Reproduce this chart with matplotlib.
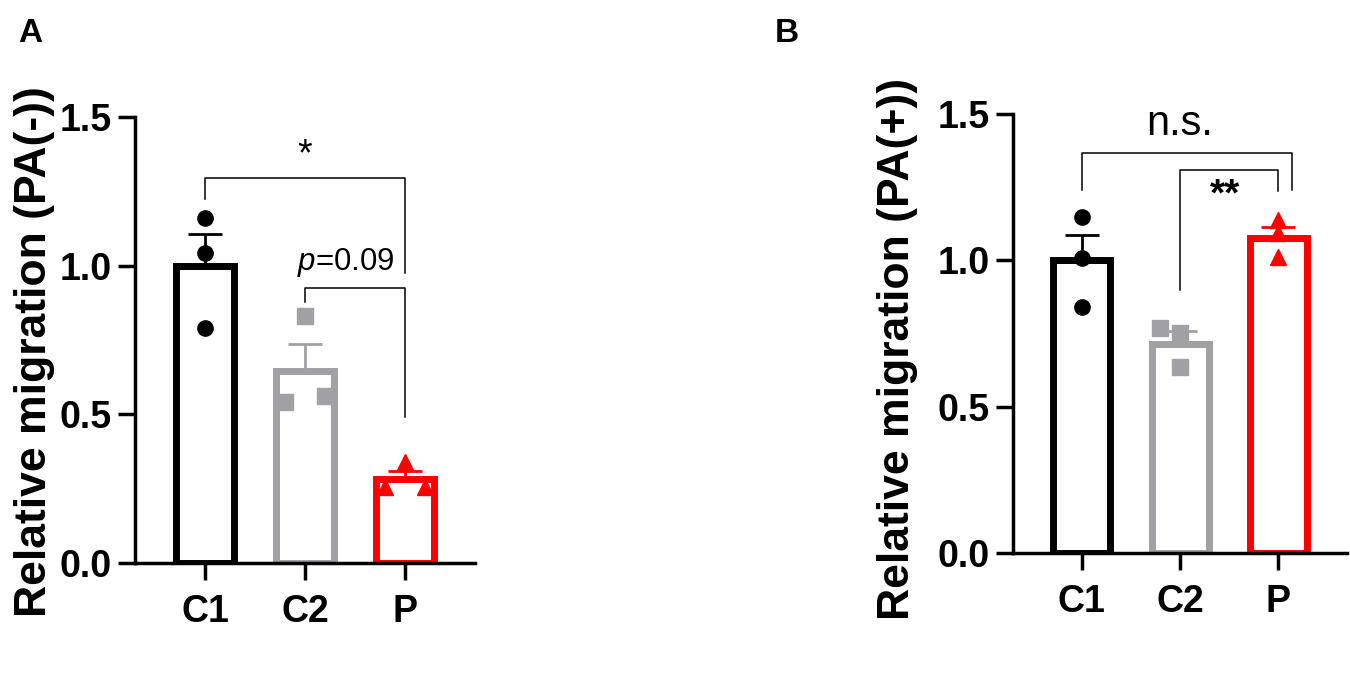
import numpy as np
import matplotlib
matplotlib.use('Agg')
import matplotlib.pyplot as plt

plt.rcParams['font.family'] = ['Liberation Sans', 'DejaVu Sans']
plt.rcParams['mathtext.fontset'] = 'custom'
plt.rcParams['mathtext.it'] = 'Liberation Sans:italic'
plt.rcParams['mathtext.rm'] = 'Liberation Sans'

groups = ['C1', 'C2', 'P']
colors = ['#000000', '#A0A0A5', '#FF0000']
markers = ['o', 's', '^']
jitter = [-0.2, 0.0, 0.2]

# panel A, PA(-)
a_means = [1.0, 0.645, 0.283]
a_sem = [0.108, 0.092, 0.028]
a_points = [[1.16, 1.044, 0.79], [0.54, 0.83, 0.56], [0.256, 0.34, 0.256]]
a_jit = [[0, 0, 0], jitter, jitter]

# panel B, PA(+)
b_means = [1.0, 0.715, 1.075]
b_sem = [0.086, 0.045, 0.038]
b_points = [[1.148, 1.007, 0.84], [0.768, 0.75, 0.636], [1.137, 1.093, 1.01]]
b_jit = [[0, 0, 0], [-0.2, 0, 0], [0, 0, 0]]


def bracket(ax, x1, x2, top, l1, l2):
    ax.plot([x1, x1, x2, x2], [l1, top, top, l2], color='black', lw=1.1,
            clip_on=False, zorder=5)


def panel(ax, means, sem, points, jit, ylabel, label_xy):
    x = np.arange(len(groups))
    for i in range(len(groups)):
        ax.bar(x[i], means[i], width=0.58, facecolor='white',
               edgecolor=colors[i], linewidth=5, zorder=2)
        ax.errorbar(x[i], means[i], yerr=[[0], [sem[i]]], color=colors[i],
                    elinewidth=2, capsize=12, capthick=2, zorder=3)
        ax.plot(x[i] + np.array(jit[i]), points[i], linestyle='none',
                marker=markers[i], color=colors[i], markersize=11,
                zorder=4, clip_on=False)
    ax.set_xlim(-0.7, 2.7)
    ax.set_ylim(0, 1.5)
    ax.set_yticks([0, 0.5, 1.0, 1.5])
    ax.set_yticklabels(['0.0', '0.5', '1.0', '1.5'])
    ax.set_xticks(x)
    ax.set_xticklabels(groups)
    for s in ['top', 'right']:
        ax.spines[s].set_visible(False)
    for s in ['left', 'bottom']:
        ax.spines[s].set_linewidth(2.5)
    ax.tick_params(axis='both', width=2.5, length=12, labelsize=27)
    ax.tick_params(axis='x', pad=10)
    ax.tick_params(axis='y', pad=5)
    for lab in ax.get_xticklabels() + ax.get_yticklabels():
        lab.set_fontweight('bold')
    ax.set_ylabel(ylabel, fontsize=32, fontweight='bold')
    ax.yaxis.set_label_coords(*label_xy)


fig = plt.figure(figsize=(13.5, 6.87), dpi=100)

axA = fig.add_axes([0.1, 0.1805, 0.2519, 0.6492])
panel(axA, a_means, a_sem, a_points, a_jit, 'Relative migration (PA(-))',
      (-0.236, 0.475))
bracket(axA, 0, 2, 1.296, 1.225, 0.976)
bracket(axA, 1, 2, 0.926, 0.879, 0.49)
axA.text(1.0, 1.37, '*', ha='center', va='center', fontsize=27)
axA.text(1.41, 0.987, r'$p$=0.09', ha='center', va='baseline', fontsize=22.5)

axB = fig.add_axes([0.7504, 0.1951, 0.2474, 0.639])
panel(axB, b_means, b_sem, b_points, b_jit, 'Relative migration (PA(+))',
      (-0.285, 0.465))
bracket(axB, 0, 2.14, 1.367, 1.24, 1.24)
bracket(axB, 1, 2, 1.309, 0.898, 1.237)
axB.text(1.0, 1.428, 'n.s.', ha='center', va='baseline', fontsize=30)
axB.text(1.46, 1.22, '**', ha='center', va='center', fontsize=28,
         fontweight='bold')

fig.text(30 / 1350, 1 - 33 / 687, 'A', ha='center', va='center',
         fontsize=24, fontweight='bold')
fig.text(787 / 1350, 1 - 33 / 687, 'B', ha='center', va='center',
         fontsize=24, fontweight='bold')

fig.savefig('out.png', dpi=100)
